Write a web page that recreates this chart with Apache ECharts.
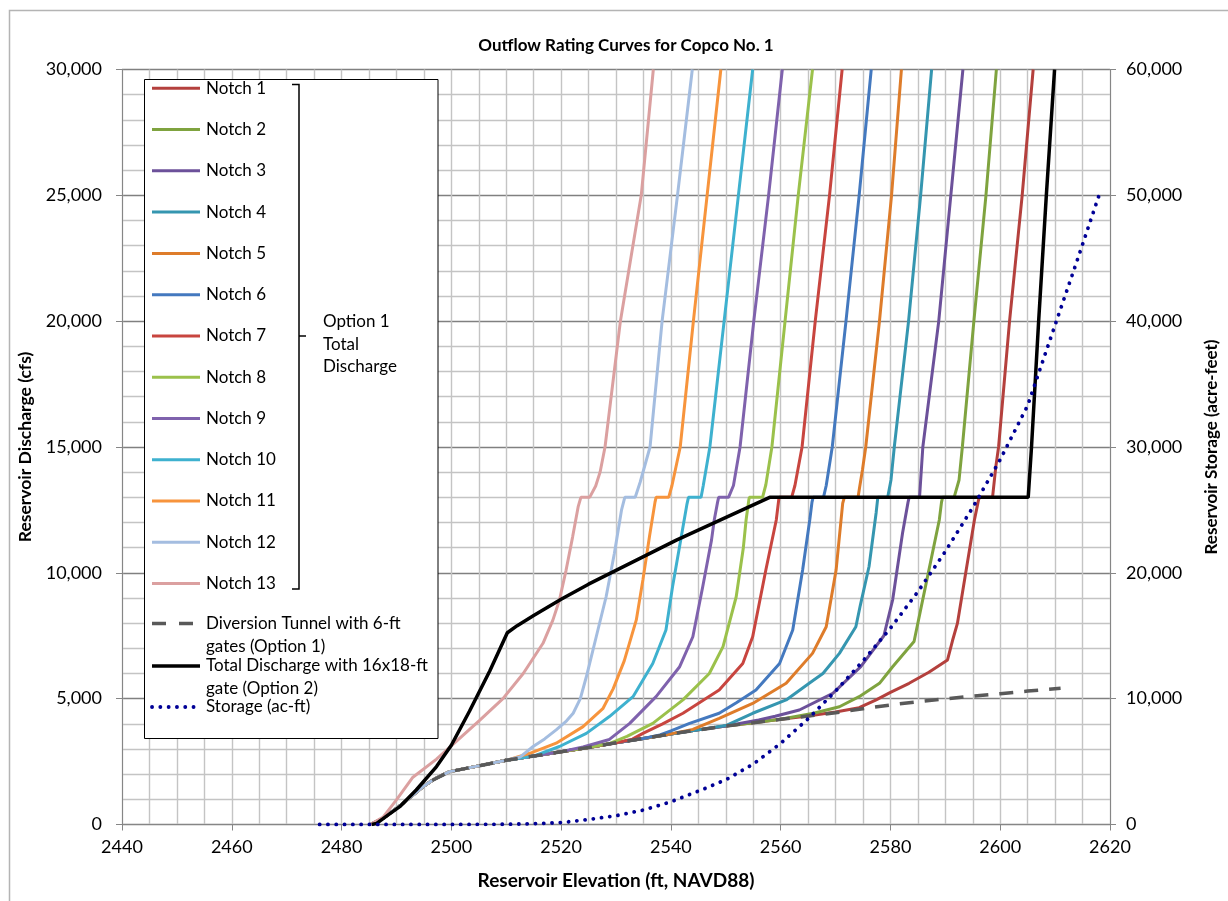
<!DOCTYPE html>
<html>
<head>
<meta charset="utf-8">
<title>Outflow Rating Curves for Copco No. 1</title>
<script src="https://cdn.jsdelivr.net/npm/echarts@6/dist/echarts.min.js"></script>
<style>
  html, body { margin: 0; padding: 0; background: #fff; }
  #chart { width: 1228px; height: 901px; }
</style>
</head>
<body>
<div id="chart"></div>
<script>
// ---- Rating data: [reservoir elevation (ft, NAVD88), discharge (cfs)] ----
const xTicks = [2440, 2460, 2480, 2500, 2520, 2540, 2560, 2580, 2600, 2620];

// Shared low-stage rating below the diversion gates
const lowStage = [[2485.3,0],[2487.6,250],[2491.2,840],[2494.8,1500]];

// Diversion tunnel with 6-ft gates (Option 1)
const tunnel = [[2496.5,1750],[2497.3,1840],[2499.7,2100],[2505,2330],[2510,2550],[2515,2720],[2520,2890],
  [2525,3060],[2530,3250],[2535,3420],[2540,3600],[2545,3760],[2550,3910],[2555,4040],[2560,4180],
  [2565,4310],[2570,4440],[2575,4600],[2580,4750],[2585,4880],[2590,4990],[2595,5100],[2600,5200],
  [2605,5300],[2611,5410]];

// Elevation where each notch curve leaves the tunnel curve (Notch 13 rises on its own)
const notchBranch = [2568, 2560, 2554, 2548, 2542, 2536, 2531, 2527, 2522, 2516, 2512, 2510, null];

const notch1 = [[2570,4470],[2574.3,4640],[2577.4,4950],[2580,5250],[2583.4,5610],[2587,6050],[2590.4,6540],
  [2591.3,7300],[2592.2,7990],[2593.7,9980],[2595.3,12100],[2596,12850],[2596.2,13000],[2598.6,13000],
  [2599.2,14220],[2599.7,15000],[2601.7,20000],[2604,25000],[2606,30000]];
const notch2 = [[2562,4260],[2566,4420],[2570.7,4680],[2574.3,5080],[2578,5610],[2580.4,6270],[2584.3,7270],
  [2586.5,9580],[2588.9,12100],[2589.3,12800],[2589.5,13000],[2591.6,13000],[2592.5,13690],[2593.1,15000],
  [2595.2,20000],[2597.4,25000],[2599.3,30000]];
const notch3 = [[2556,4150],[2559,4300],[2563.4,4550],[2569.5,5210],[2574.6,6270],[2578.8,7500],[2580.4,8920],
  [2582.2,11570],[2583.2,12800],[2583.4,13000],[2585.3,13000],[2585.9,15000],[2588.8,20000],[2591,25000],
  [2593.2,30000]];
const notch4 = [[2550,3930],[2554.9,4420],[2561,4950],[2565.2,5610],[2567.7,6000],[2570.7,6800],[2573.7,7860],
  [2574.5,8700],[2576.1,10250],[2577.4,12400],[2577.7,13000],[2579.5,13000],[2580.1,13690],[2580.7,15000],
  [2583.3,20000],[2585.5,25000],[2587.5,30000]];
const notch5 = [[2544,3780],[2548.8,4220],[2554.9,4810],[2561,5610],[2565.8,6800],[2568.3,7860],[2570.1,10110],
  [2570.7,11440],[2571.3,12760],[2571.6,13000],[2574.1,13000],[2574.4,13420],[2574.9,14090],[2575.5,15000],
  [2578,20000],[2580.2,25000],[2582,30000]];
const notch6 = [[2538,3560],[2540,3720],[2543.4,4020],[2548.8,4420],[2552,4850],[2555.5,5340],[2559.8,6400],
  [2562.2,7730],[2564,10110],[2565.3,12100],[2565.7,12800],[2565.9,13000],[2567.8,13000],[2568.3,13470],
  [2569.4,15000],[2571.9,20000],[2574.3,25000],[2576.5,30000]];
const notch7 = [[2533,3390],[2534.9,3620],[2538.5,4000],[2542.2,4420],[2548.8,5340],[2553.1,6400],[2554.9,7460],
  [2557.3,10110],[2559.2,12100],[2559.7,13000],[2562,13000],[2562.6,13470],[2563.9,15000],[2566.3,20000],
  [2568.9,25000],[2571.2,30000]];
const notch8 = [[2529,3230],[2532,3500],[2536.7,4020],[2542.2,4950],[2547,6000],[2549.5,7070],[2551.9,9050],
  [2553.2,11000],[2553.7,12100],[2554.2,12900],[2554.3,13000],[2556.7,13000],[2557.3,13500],[2558.4,15000],
  [2560.8,20000],[2563.2,25000],[2565.8,30000]];
const notch9 = [[2524,3080],[2528.8,3380],[2532.5,4020],[2537.3,5080],[2541.6,6270],[2544,7460],[2545.8,9450],
  [2547.4,11300],[2547.9,12100],[2548.5,12800],[2548.7,13000],[2550.5,13000],[2551.4,13470],[2552.6,15000],
  [2555.1,20000],[2557.8,25000],[2560.3,30000]];
const notch10 = [[2519.7,3100],[2524.6,3620],[2528.8,4290],[2533.1,5080],[2536.7,6400],[2539.1,7730],
  [2540.3,9450],[2541.9,11440],[2542.9,12700],[2543.2,13000],[2545.5,13000],[2545.9,13470],[2547.1,15000],
  [2549.7,20000],[2552.3,25000],[2554.9,30000]];
const notch11 = [[2514.3,2830],[2519.1,3230],[2524,3890],[2527.6,4600],[2529.5,5400],[2531.5,6500],
  [2533.7,8130],[2534.9,9720],[2536.1,11440],[2537.1,12800],[2537.3,13000],[2539.6,13000],[2540.2,13470],
  [2541.7,15000],[2544.1,20000],[2546.6,25000],[2549.1,30000]];
const notch12 = [[2512.5,2680],[2514.9,3100],[2517,3400],[2519.1,3760],[2521,4120],[2522.2,4420],[2523.5,5000],
  [2524.6,5870],[2526.4,7460],[2528.2,9050],[2529.7,10770],[2531,12490],[2531.6,13000],[2533.5,13000],
  [2534.4,13600],[2536.2,15000],[2538.4,20000],[2541.2,25000],[2543.9,30000]];
const notch13 = [[2485.2,0],[2487.6,300],[2490,980],[2493,1880],[2497.3,2600],[2500.9,3300],[2505.2,4150],
  [2509.4,5000],[2513.1,6000],[2516.7,7200],[2518.5,8120],[2519.7,8920],[2520.9,10100],[2522.1,11430],
  [2523.1,12620],[2523.6,13000],[2525.2,13000],[2526.3,13450],[2527.1,14000],[2528,15000],[2530.8,20000],
  [2534.6,25000],[2536.8,30000]];

// Total discharge with 16x18-ft gate (Option 2)
const option2 = [[2485.5,0],[2486.4,45],[2488.5,380],[2490.6,708],[2493.6,1370],[2497.3,2300],[2500,3150],
  [2503.3,4500],[2507,6100],[2510.2,7620],[2512,7900],[2515,8300],[2520,8950],[2525,9550],[2530,10100],
  [2541,11300],[2558,13000],[2605.1,13000],[2605.7,15000],[2607,20000],[2608.4,25000],[2609.9,30000]];

// Reservoir storage: [elevation, acre-feet]
const storage = [[2476,0],[2490,0],[2500,0],[2510,20],[2515,60],[2520,150],[2525,400],[2530,700],[2535,1150],
  [2540,1800],[2545,2650],[2550,3550],[2555,4800],[2560,6450],[2565,8400],[2570,10600],[2575,13000],
  [2580,15600],[2585,18500],[2590,21700],[2595,25200],[2600,29000],[2605,33300],[2610,39700],[2614,44800],
  [2618,50000]];

const notchData = [notch1, notch2, notch3, notch4, notch5, notch6, notch7, notch8, notch9, notch10, notch11, notch12, notch13];
const notchNames = ['Notch 1','Notch 2','Notch 3','Notch 4','Notch 5','Notch 6','Notch 7','Notch 8','Notch 9','Notch 10','Notch 11','Notch 12','Notch 13'];
const notchColors = ['#B4403D','#7FA33F','#6C519A','#3596B0','#DE7C2A','#4479BF','#C8453F','#9BC14B','#7F62AD','#3EB1CF','#F7943C','#A4BDE0','#DBA0A0'];

const tunnelName = 'Diversion Tunnel with 6-ft gates (Option 1)';
const option2Name = 'Total Discharge with 16x18-ft gate (Option 2)';
const storageName = 'Storage (ac-ft)';

// Each notch curve follows the low-stage and tunnel rating until it branches off
function notchCurve(i) {
  const own = notchData[i];
  if (notchBranch[i] === null) return own;
  return lowStage.concat(tunnel).filter(p => p[0] <= notchBranch[i]).concat(own);
}

const FONT = 'Lato, "Liberation Sans", sans-serif';
const fmt = v => Number(v).toLocaleString('en-US');

const series = [];
notchNames.forEach((name, i) => {
  series.push({
    name, type: 'line', data: notchCurve(i), showSymbol: false, symbol: 'none',
    lineStyle: { color: notchColors[i], width: 3 }, itemStyle: { color: notchColors[i] }, z: 2
  });
});
series.push({
  name: tunnelName, type: 'line', data: tunnel, showSymbol: false, symbol: 'none',
  lineStyle: { color: '#595959', width: 3.5, type: [14, 11] }, z: 3
});
series.push({
  name: option2Name, type: 'line', data: option2, showSymbol: false, symbol: 'none',
  lineStyle: { color: '#000000', width: 3.5 }, z: 4
});
series.push({
  name: storageName, type: 'line', yAxisIndex: 1, data: storage, showSymbol: false, symbol: 'none',
  lineStyle: { color: '#000096', width: 3.8, type: [0.1, 8.2], cap: 'round' }, z: 5
});

// Legend box drawn as graphics
const LX = 152, LTXT = 206, ROW0 = 88.3, ROWGAP = 41.27;
const LFONT = '17px ' + FONT;
const legendEls = [
  { type: 'rect', shape: { x: 144.5, y: 79.5, width: 293.5, height: 659 },
    style: { fill: '#fff', stroke: '#000', lineWidth: 1 }, z: 10 }
];
notchNames.forEach((name, i) => {
  const y = ROW0 + ROWGAP * i;
  legendEls.push({ type: 'line', shape: { x1: LX, y1: y, x2: LX + 48, y2: y },
    style: { stroke: notchColors[i], lineWidth: 3 }, z: 11 });
  legendEls.push({ type: 'text', x: LTXT, y: y,
    style: { text: name, font: LFONT, fill: '#000', verticalAlign: 'middle' }, z: 11 });
});
function wrap2(s, at) { return s.slice(0, at).trim() + '\n' + s.slice(at).trim(); }
legendEls.push(
  { type: 'line', shape: { x1: LX, y1: 623.5, x2: LX + 48, y2: 623.5 },
    style: { stroke: '#595959', lineWidth: 3.5, lineDash: [14, 13] }, z: 11 },
  { type: 'text', x: LTXT, y: 612,
    style: { text: wrap2(tunnelName, 26), font: LFONT, fill: '#000', verticalAlign: 'top', lineHeight: 23 }, z: 11 },
  { type: 'line', shape: { x1: LX, y1: 666, x2: LX + 48, y2: 666 },
    style: { stroke: '#000', lineWidth: 3.5 }, z: 11 },
  { type: 'text', x: LTXT, y: 654.5,
    style: { text: wrap2(option2Name, 29), font: LFONT, fill: '#000', verticalAlign: 'top', lineHeight: 23 }, z: 11 },
  { type: 'line', shape: { x1: LX, y1: 707, x2: LX + 44, y2: 707 },
    style: { stroke: '#000096', lineWidth: 3.8, lineDash: [0.1, 8.2], lineCap: 'round' }, z: 11 },
  { type: 'text', x: LTXT, y: 707,
    style: { text: storageName, font: LFONT, fill: '#000', verticalAlign: 'middle' }, z: 11 },
  // bracket grouping the notch curves
  { type: 'polyline', shape: { points: [[292, 84.5], [299, 84.5], [299, 589], [292, 589]] },
    style: { stroke: '#000', lineWidth: 1.5, fill: null }, z: 11 },
  { type: 'line', shape: { x1: 299, y1: 336, x2: 306, y2: 336 },
    style: { stroke: '#000', lineWidth: 1.5 }, z: 11 },
  { type: 'text', x: 323, y: 310.5,
    style: { text: 'Option 1\nTotal\nDischarge', font: LFONT, fill: '#000', verticalAlign: 'top', lineHeight: 22.5 }, z: 11 }
);

const chart = echarts.init(document.getElementById('chart'), null, { renderer: 'canvas' });
chart.setOption({
  animation: false,
  backgroundColor: '#ffffff',
  title: {
    text: 'Outflow Rating Curves for Copco No. 1',
    left: 621, top: 32, textAlign: 'center',
    textStyle: { fontFamily: FONT, fontWeight: 'bold', fontSize: 17, color: '#000' }
  },
  grid: { left: 122, top: 69.5, width: 989, height: 755 },
  xAxis: {
    type: 'value', min: xTicks[0], max: xTicks[xTicks.length - 1], interval: 20,
    name: 'Reservoir Elevation (ft, NAVD88)', nameLocation: 'middle', nameGap: 47,
    nameTextStyle: { fontFamily: FONT, fontWeight: 'bold', fontSize: 19, color: '#000' },
    axisLine: { onZero: false, lineStyle: { color: '#868686', width: 1 } },
    axisTick: { show: true, length: 6, lineStyle: { color: '#868686' } },
    axisLabel: { margin: 14, fontFamily: FONT, fontSize: 18, color: '#000', formatter: v => String(v) },
    splitLine: { show: true, lineStyle: { color: '#C4C4C4', width: 1.4 } },
    minorTick: { show: false, splitNumber: 4 },
    minorSplitLine: { show: true, lineStyle: { color: '#C4C4C4', width: 1.4 } }
  },
  yAxis: [
    {
      type: 'value', min: 0, max: 30000, interval: 5000, position: 'left',
      name: 'Reservoir Discharge (cfs)', nameLocation: 'middle', nameGap: 85,
      nameTextStyle: { fontFamily: FONT, fontWeight: 'bold', fontSize: 17.5, color: '#000' },
      axisLine: { show: true, lineStyle: { color: '#868686' } },
      axisTick: { show: true, length: 6, lineStyle: { color: '#868686' } },
      axisLabel: { margin: 20, fontFamily: FONT, fontSize: 18, color: '#000', formatter: fmt },
      splitLine: { show: true, lineStyle: { color: '#808080', width: 1.4 } },
      minorTick: { show: false, splitNumber: 5 },
      minorSplitLine: { show: true, lineStyle: { color: '#C4C4C4', width: 1.4 } }
    },
    {
      type: 'value', min: 0, max: 60000, interval: 10000, position: 'right',
      name: 'Reservoir Storage (acre-feet)', nameLocation: 'middle', nameGap: 93, nameRotate: 90,
      nameTextStyle: { fontFamily: FONT, fontWeight: 'bold', fontSize: 17, color: '#000' },
      axisLine: { show: true, lineStyle: { color: '#868686' } },
      axisTick: { show: true, length: 6, lineStyle: { color: '#868686' } },
      axisLabel: { margin: 16, fontFamily: FONT, fontSize: 18, color: '#000', formatter: fmt },
      splitLine: { show: false }
    }
  ],
  series,
  graphic: [
    { type: 'rect', shape: { x: 9.5, y: 10.5, width: 1240, height: 900 },
      style: { fill: null, stroke: '#B4B4B4', lineWidth: 1.5 }, z: -1, silent: true },
    { type: 'group', children: legendEls }
  ]
});
</script>
</body>
</html>
